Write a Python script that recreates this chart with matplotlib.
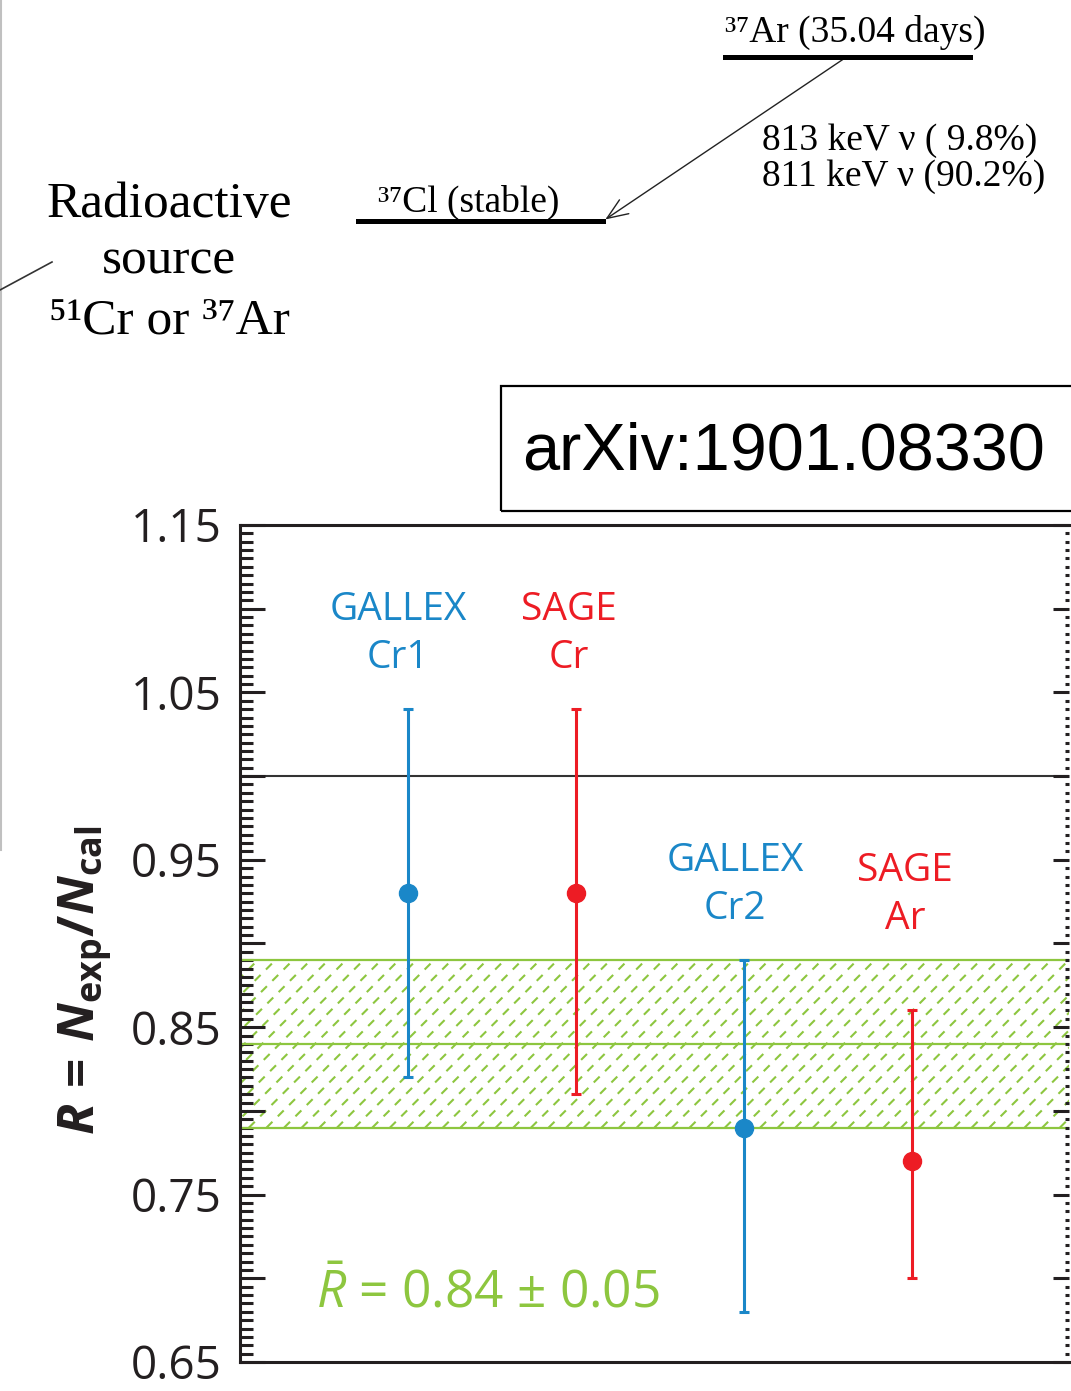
import numpy as np
import matplotlib
matplotlib.use("Agg")
import matplotlib.pyplot as plt
from matplotlib.ticker import MultipleLocator, FuncFormatter
from matplotlib.patches import Rectangle, FancyArrowPatch
from matplotlib.lines import Line2D

plt.rcParams['font.family'] = ['Open Sans', 'DejaVu Sans']
plt.rcParams['mathtext.fontset'] = 'custom'
plt.rcParams['mathtext.rm'] = 'Open Sans'
plt.rcParams['mathtext.it'] = 'Open Sans:italic'
plt.rcParams['mathtext.bf'] = 'Open Sans:bold'
plt.rcParams['mathtext.bfit'] = 'Open Sans:italic:bold'
plt.rcParams['lines.scale_dashes'] = False

# data
experiments = ['GALLEX\nCr1', 'SAGE\nCr', 'GALLEX\nCr2', 'SAGE\nAr']
xpos = [1, 2, 3, 4]
ratio = [0.93, 0.93, 0.79, 0.77]
err_lo = [0.11, 0.12, 0.11, 0.07]
err_hi = [0.11, 0.11, 0.10, 0.09]
colors = ['#1a87c8', '#ed1c24', '#1a87c8', '#ed1c24']
label_x = [0.94, 1.96, 2.95, 3.96]
label_y = [1.085, 1.085, 0.935, 0.929]

r_mean = 0.84
r_err = 0.05

W, H = 1071, 1391
fig = plt.figure(figsize=(W / 100, H / 100), dpi=100)


def P(x, y):
    return (x / W, 1 - y / H)


serif = ['Liberation Serif', 'DejaVu Serif']
black = '#231f20'

# ---- top: decay scheme ----
fig.add_artist(Line2D([1 / W, 1 / W], [1, 1 - 850 / H], color='#c0c0c0', lw=1.5))
fig.add_artist(Line2D([0, 52 / W], [1 - 290 / H, 1 - 262 / H], color='#333333', lw=1.2))

fig.text(*P(169, 217), 'Radioactive', family=serif, fontsize=37, ha='center', va='baseline')
fig.text(*P(169, 274), 'source', family=serif, fontsize=37, ha='center', va='baseline')
fig.text(*P(169, 333), '\u2075\u00b9Cr or \u00b3\u2077Ar', family=serif, fontsize=37,
         ha='center', va='baseline')

fig.add_artist(Line2D([725 / W, 970 / W], [1 - 57 / H] * 2, color='black', lw=3.6))
fig.text(*P(725, 42), '\u00b3\u2077Ar (35.04 days)', family=serif, fontsize=27,
         ha='left', va='baseline')
fig.add_artist(Line2D([358 / W, 603 / W], [1 - 221 / H] * 2, color='black', lw=3.6))
fig.text(*P(378, 212), '\u00b3\u2077Cl (stable)', family=serif, fontsize=27,
         ha='left', va='baseline')
fig.add_artist(FancyArrowPatch(P(845, 58), P(603, 221), transform=fig.transFigure,
                               arrowstyle='->,head_length=0.5,head_width=0.2',
                               mutation_scale=30, lw=1, color='#222222'))
fig.text(*P(762, 150), '813 keV \u03bd ( 9.8%)', family=serif, fontsize=27,
         ha='left', va='baseline')
fig.text(*P(762, 186), '811 keV \u03bd (90.2%)', family=serif, fontsize=27,
         ha='left', va='baseline')

# arXiv box
fig.add_artist(Rectangle(P(501, 511), (W + 5 - 501) / W, 125 / H, transform=fig.transFigure,
                         fill=False, lw=1.6, edgecolor='black'))
fig.text(*P(784, 452), 'arXiv:1901.08330', family=['Liberation Sans', 'DejaVu Sans'],
         fontsize=48, ha='center', va='center')

# ---- chart ----
ax = fig.add_axes([240 / W, 29 / H, 829 / W, 837 / H])
ax.set_xlim(0, 829 / 167.9)
ax.set_ylim(0.65, 1.15)

# band with dashed hatch
green = '#8dc63f'
ax.axhline(r_mean - r_err, color=green, lw=1.6)
ax.axhline(r_mean + r_err, color=green, lw=1.6)
ax.axhline(r_mean, color=green, lw=1.6)
dx_band = 2 * r_err * 1674 / 167.9
for x0 in np.arange(-dx_band, 5.2, 0.105):
    ax.plot([x0, x0 + dx_band], [r_mean - r_err, r_mean + r_err], color=green, lw=1.5,
            dashes=(6, 5.5), zorder=1)

ax.axhline(1.0, color='#333333', lw=1.5, zorder=1)

for i in range(len(xpos)):
    ax.errorbar(xpos[i], ratio[i], yerr=[[err_lo[i]], [err_hi[i]]], fmt='o', color=colors[i],
                ms=13, elinewidth=2.2, capsize=3.6, capthick=2.2, zorder=3)
    ax.text(label_x[i], label_y[i], experiments[i], color=colors[i], fontsize=28,
            ha='center', va='center', multialignment='center', linespacing=1.33)

ax.text(76 / 167.9, 0.65 + (1362 - 1308) / 1674, r'$\bar{R}$ = 0.84 $\pm$ 0.05', color=green,
        fontsize=37, ha='left', va='baseline')

# axes styling
for s in ['top', 'bottom', 'left']:
    ax.spines[s].set_linewidth(2.2)
    ax.spines[s].set_color(black)
ax.spines['right'].set_visible(False)
ax.set_xticks([])
ax.yaxis.set_major_locator(MultipleLocator(0.05))
ax.yaxis.set_minor_locator(MultipleLocator(0.005))
ax.yaxis.set_major_formatter(FuncFormatter(
    lambda v, p: '%.2f' % v if int(round(v * 100)) % 10 == 5 else ''))
ax.tick_params(axis='y', which='major', direction='in', length=18, width=2.2, color=black,
               labelsize=33, labelcolor=black, pad=13, right=False)
ax.tick_params(axis='y', which='minor', direction='in', length=9.4, width=2.2, color=black,
               right=False)

ax2 = ax.twinx()
ax2.set_ylim(0.65, 1.15)
for s in ax2.spines.values():
    s.set_visible(False)
ax2.yaxis.set_major_locator(MultipleLocator(0.05))
ax2.yaxis.set_minor_locator(MultipleLocator(0.005))
ax2.tick_params(axis='y', which='major', direction='in', length=11.5, width=2.2, color=black,
                labelright=False)
ax2.tick_params(axis='y', which='minor', direction='in', length=3, width=2.2, color=black)

fig.text(*P(85, 980), r'$\mathbfit{R}\,\mathbf{=}\,\mathbfit{N}_{\mathbf{exp}}\mathbf{/}\mathbfit{N}_{\mathbf{cal}}$',
         rotation=90, fontsize=37, ha='center', va='center', color=black)

fig.savefig('out.png', dpi=100)
